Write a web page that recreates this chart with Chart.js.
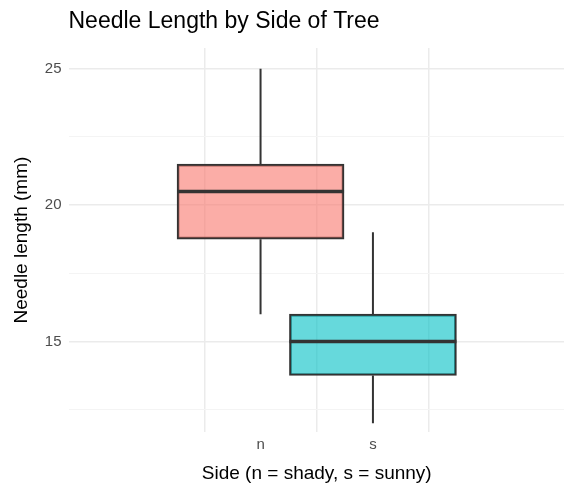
<!DOCTYPE html>
<html lang="en">
<head>
<meta charset="UTF-8">
<title>Needle Length by Side of Tree</title>
<script src="https://cdn.jsdelivr.net/npm/chart.js@4"></script>
<style>
  body { margin: 0; background: #fff; }
  #wrap { width: 576px; height: 499px; }
</style>
</head>
<body>
<div id="wrap"><canvas id="myChart"></canvas></div>
<script>
const sides = ['n', 's'];
const mins = [16, 12];
const q1s = [18.75, 13.75];
const medians = [20.5, 15];
const q3s = [21.5, 16];
const maxs = [25, 19];
const fills = ['rgba(248,118,109,0.6)', 'rgba(0,191,196,0.6)'];
const yTicks = [12.5, 15, 17.5, 20, 22.5, 25];
const chartTitle = 'Needle Length by Side of Tree';

// whiskers, medians and a title aligned with the plot panel
const boxExtras = {
  id: 'boxExtras',
  beforeDatasetsDraw(chart) {
    const { ctx, scales: { x, y } } = chart;
    ctx.save();
    ctx.strokeStyle = '#333';
    ctx.lineWidth = 2;
    sides.forEach((s, i) => {
      const cx = x.getPixelForValue(i);
      ctx.beginPath();
      ctx.moveTo(cx, y.getPixelForValue(maxs[i]));
      ctx.lineTo(cx, y.getPixelForValue(q3s[i]));
      ctx.moveTo(cx, y.getPixelForValue(q1s[i]));
      ctx.lineTo(cx, y.getPixelForValue(mins[i]));
      ctx.stroke();
    });
    ctx.restore();
  },
  afterDatasetsDraw(chart) {
    const { ctx, scales: { y }, chartArea } = chart;
    const meta = chart.getDatasetMeta(0);
    ctx.save();
    ctx.strokeStyle = '#333';
    ctx.lineWidth = 3.5;
    meta.data.forEach((bar, i) => {
      const h = bar.width / 2;
      const py = y.getPixelForValue(medians[i]);
      ctx.beginPath();
      ctx.moveTo(bar.x - h, py);
      ctx.lineTo(bar.x + h, py);
      ctx.stroke();
    });
    ctx.fillStyle = '#000';
    ctx.font = '23px "Liberation Sans", Arial';
    ctx.textBaseline = 'middle';
    ctx.fillText(chartTitle, chartArea.left - 1, 22);
    ctx.restore();
  }
};

new Chart(document.getElementById('myChart'), {
  type: 'bar',
  data: {
    datasets: [{
      data: sides.map((s, i) => ({ x: i, y: [q1s[i], q3s[i]] })),
      backgroundColor: fills,
      borderColor: '#333',
      borderWidth: 2,
      borderSkipped: false,
      barThickness: 167
    }]
  },
  options: {
    responsive: true,
    maintainAspectRatio: false,
    animation: false,
    layout: { padding: { left: 6, right: 12, top: 48, bottom: 14 } },
    plugins: {
      legend: { display: false },
      tooltip: { enabled: false }
    },
    scales: {
      x: {
        type: 'linear',
        min: -0.6,
        max: 1.6,
        afterBuildTicks: (axis) => { axis.ticks = sides.map((s, i) => ({ value: i })); },
        grid: { color: '#ebebeb', lineWidth: 1.5, drawTicks: false },
        border: { display: false },
        ticks: { color: '#4d4d4d', font: { family: 'Liberation Sans, Arial', size: 15 }, padding: 4,
                 callback: (v) => sides[v] },
        title: { display: true, text: 'Side (n = shady, s = sunny)', color: '#000',
                 font: { family: 'Liberation Sans, Arial', size: 19 }, padding: { top: 4, bottom: 0 } }
      },
      y: {
        min: 11.67,
        max: 25.76,
        afterBuildTicks: (axis) => { axis.ticks = yTicks.map(v => ({ value: v })); },
        grid: {
          color: (c) => (c.tick && c.tick.value % 5 === 0) ? '#ebebeb' : '#f4f4f4',
          lineWidth: (c) => (c.tick && c.tick.value % 5 === 0) ? 1.5 : 1,
          drawTicks: false
        },
        border: { display: false },
        ticks: {
          color: '#4d4d4d',
          font: { family: 'Liberation Sans, Arial', size: 15 },
          padding: 8,
          callback: (v) => (v % 5 === 0 ? v : '')
        },
        title: { display: true, text: 'Needle length (mm)', color: '#000',
                 font: { family: 'Liberation Sans, Arial', size: 19 } }
      }
    }
  },
  plugins: [boxExtras]
});
</script>
</body>
</html>
